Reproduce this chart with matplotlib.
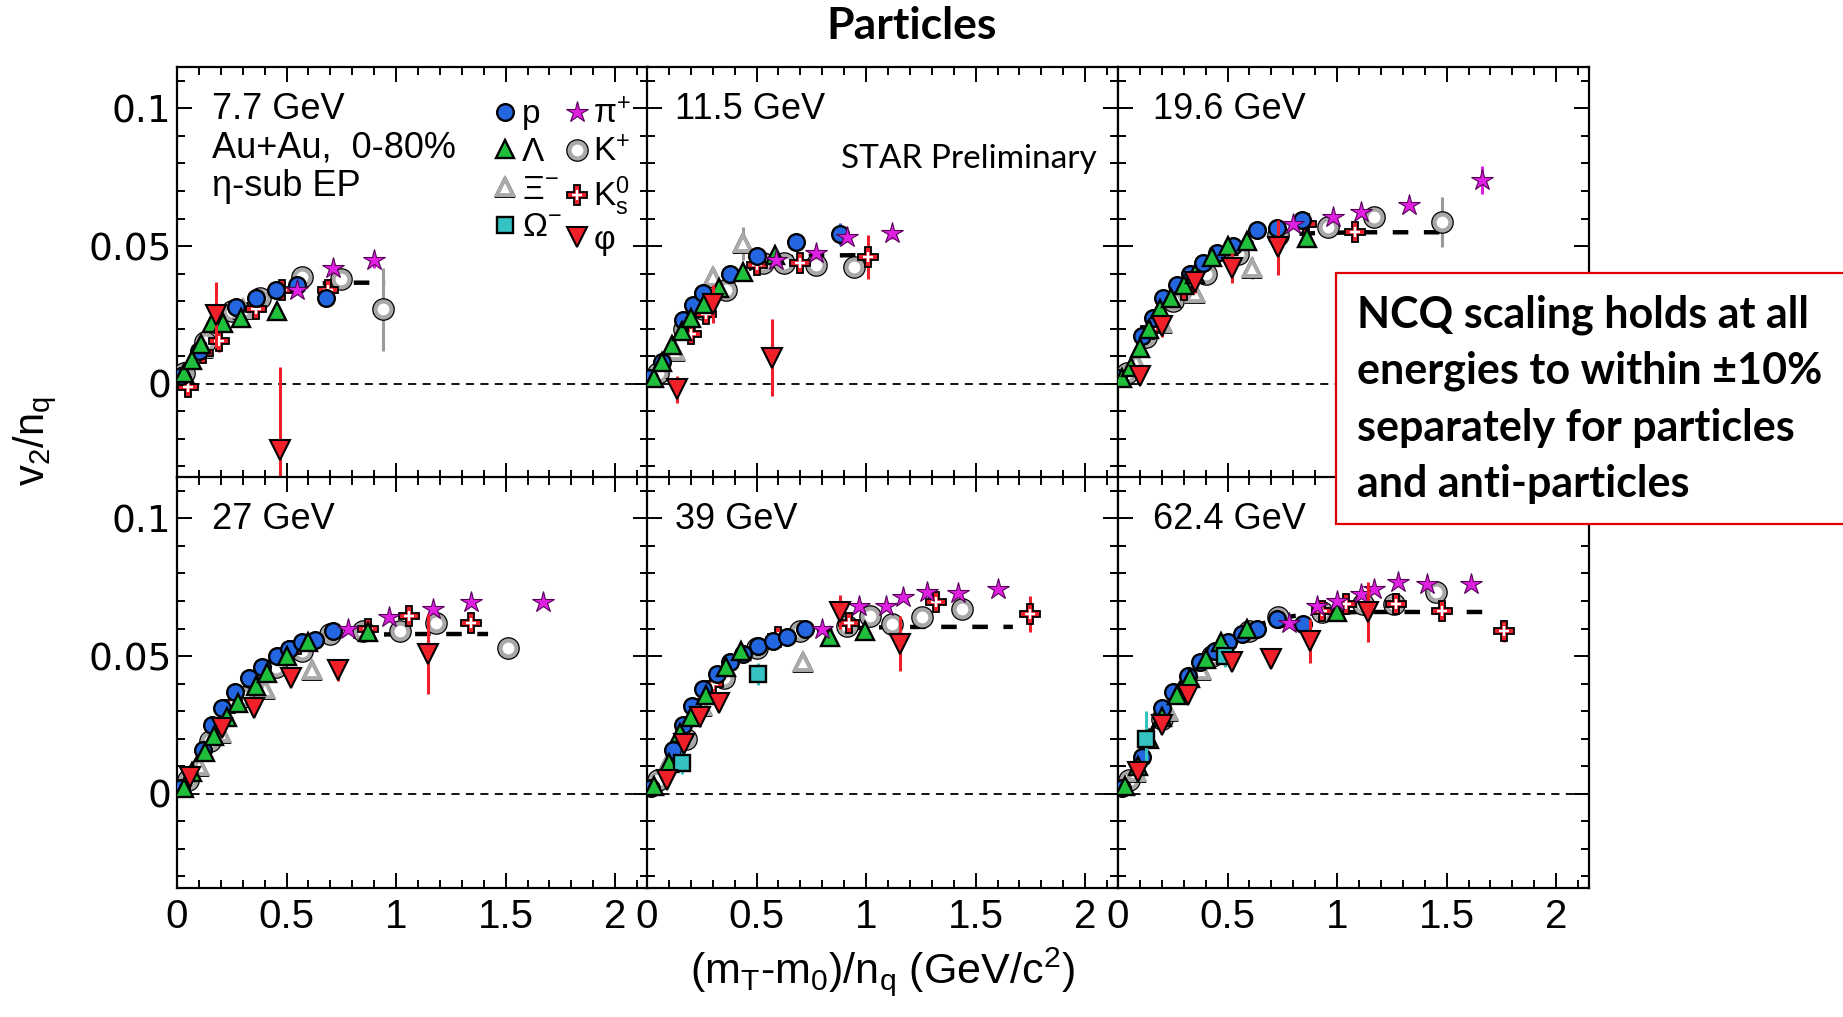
import matplotlib
matplotlib.use("Agg")
import matplotlib.pyplot as plt
from matplotlib.lines import Line2D
from matplotlib.patches import Rectangle
from matplotlib.ticker import MultipleLocator, FuncFormatter

plt.rcParams['mathtext.fontset'] = 'custom'
plt.rcParams['mathtext.rm'] = 'Liberation Sans'
plt.rcParams['mathtext.it'] = 'Liberation Sans:italic'
plt.rcParams['mathtext.default'] = 'regular'
plt.rcParams['font.family'] = ['Liberation Sans', 'DejaVu Sans']

# ---------------- data: (x, v2/nq, error) ----------------
ENERGIES = ["7.7 GeV", "11.5 GeV", "19.6 GeV", "27 GeV", "39 GeV", "62.4 GeV"]

P_7 = [(0.02,0.003,0),(0.10,0.012,0),(0.27,0.028,0),(0.36,0.031,0),(0.45,0.034,0),(0.55,0.036,0),(0.68,0.031,0)]
L_7 = [(0.03,0.004,0),(0.07,0.0085,0),(0.11,0.0146,0),(0.16,0.022,0),(0.21,0.022,0),(0.29,0.024,0),(0.455,0.0266,0)]
XI_7 = [(0.12,0.013,0),(0.30,0.027,0)]
OM_7 = []
PI_7 = [(0.55,0.034,0),(0.71,0.042,0.002),(0.90,0.045,0.003)]
K_7 = [(0.03,0.004,0),(0.13,0.015,0),(0.25,0.0266,0),(0.38,0.031,0),(0.57,0.0387,0),(0.75,0.038,0.002),(0.94,0.027,0.015)]
KS_7 = [(0.05,-0.001,0.003),(0.12,0.011,0.003),(0.19,0.0157,0.004),(0.36,0.027,0.003),(0.48,0.034,0.003),(0.69,0.034,0.004)]
PHI_7 = [(0.18,0.025,0.012),(0.47,-0.024,0.030)]
FITX_7 = [0,0.1,0.2,0.3,0.4,0.5,0.6,0.7,0.8,0.95]
FITY_7 = [0,0.012,0.022,0.028,0.032,0.035,0.0362,0.0366,0.0367,0.0367]

P_11 = [(0.01,0.002,0),(0.07,0.008,0),(0.165,0.023,0),(0.21,0.0285,0),(0.256,0.033,0),(0.38,0.040,0),(0.5,0.0465,0),(0.68,0.0515,0),(0.88,0.0545,0.004)]
L_11 = [(0.03,0.002,0),(0.07,0.008,0),(0.115,0.014,0),(0.16,0.019,0),(0.2,0.024,0),(0.26,0.029,0),(0.33,0.0347,0),(0.44,0.0405,0),(0.585,0.0467,0)]
XI_11 = [(0.13,0.012,0),(0.3,0.0387,0.003),(0.44,0.051,0.006)]
OM_11 = []
PI_11 = [(0.59,0.045,0),(0.77,0.0474,0),(0.915,0.0533,0.002),(1.12,0.0547,0.002)]
K_11 = [(0.05,0.004,0),(0.17,0.020,0),(0.255,0.027,0),(0.36,0.034,0),(0.53,0.044,0),(0.625,0.0438,0),(0.77,0.043,0),(0.945,0.0423,0.002)]
KS_11 = [(0.2,0.018,0),(0.27,0.0255,0),(0.5,0.043,0),(0.7,0.044,0.002),(1.01,0.046,0.008)]
PHI_11 = [(0.137,-0.002,0.005),(0.3,0.029,0.007),(0.57,0.0095,0.014)]
FITX_11 = [0,0.1,0.2,0.3,0.4,0.5,0.6,0.7,0.8,1.02]
FITY_11 = [0,0.012,0.024,0.033,0.039,0.043,0.0455,0.0463,0.0466,0.0467]

P_19 = [(0.0,0.002,0),(0.11,0.0175,0),(0.16,0.024,0),(0.205,0.031,0),(0.27,0.0357,0),(0.33,0.040,0),(0.39,0.044,0),(0.45,0.0474,0),(0.525,0.050,0),(0.635,0.0558,0),(0.726,0.0566,0),(0.84,0.0595,0)]
L_19 = [(0.02,0.002,0),(0.06,0.006,0),(0.1,0.013,0),(0.14,0.02,0),(0.19,0.027,0),(0.24,0.031,0),(0.3,0.036,0),(0.35,0.040,0),(0.43,0.046,0),(0.5,0.05,0),(0.59,0.052,0),(0.863,0.053,0.003)]
XI_19 = [(0.08,0.008,0),(0.2,0.022,0),(0.35,0.033,0),(0.61,0.042,0.004)]
OM_19 = []
PI_19 = [(0.8,0.058,0),(0.98,0.0605,0),(1.11,0.0624,0),(1.33,0.065,0),(1.66,0.074,0.005)]
K_19 = [(0.04,0.004,0),(0.13,0.017,0),(0.25,0.03,0),(0.4,0.04,0),(0.55,0.047,0),(0.73,0.054,0),(0.96,0.057,0),(1.17,0.0605,0),(1.48,0.0588,0.009)]
KS_19 = [(0.15,0.02,0),(0.3,0.034,0),(0.86,0.058,0.003),(1.08,0.055,0.002)]
PHI_19 = [(0.1,0.003,0.003),(0.2,0.021,0.004),(0.35,0.0368,0.004),(0.52,0.042,0.0055),(0.73,0.0496,0.01)]
FITX_19 = [0,0.1,0.2,0.3,0.4,0.5,0.6,0.7,0.8,0.9,1.1,1.5]
FITY_19 = [0,0.014,0.027,0.036,0.043,0.048,0.051,0.053,0.0543,0.0547,0.055,0.055]

P_27 = [(0.02,0.002,0),(0.12,0.016,0),(0.16,0.025,0),(0.205,0.031,0),(0.265,0.037,0),(0.33,0.042,0),(0.39,0.046,0),(0.455,0.050,0),(0.51,0.0525,0),(0.57,0.055,0),(0.63,0.056,0),(0.71,0.059,0)]
L_27 = [(0.03,0.002,0),(0.07,0.008,0),(0.13,0.015,0),(0.17,0.021,0),(0.23,0.028,0),(0.28,0.033,0),(0.36,0.039,0),(0.41,0.044,0),(0.5,0.05,0),(0.6,0.055,0),(0.87,0.0588,0)]
XI_27 = [(0.1,0.01,0),(0.2,0.022,0),(0.4,0.038,0),(0.617,0.045,0)]
OM_27 = []
PI_27 = [(0.78,0.06,0),(0.97,0.064,0),(1.17,0.067,0),(1.34,0.0697,0),(1.67,0.0697,0)]
K_27 = [(0.05,0.005,0),(0.15,0.019,0),(0.3,0.035,0),(0.45,0.046,0),(0.57,0.052,0),(0.7,0.058,0),(0.85,0.059,0),(1.02,0.059,0),(1.18,0.062,0.002),(1.51,0.053,0.004)]
KS_27 = [(0.25,0.033,0),(0.52,0.052,0),(0.87,0.060,0),(1.06,0.0646,0.002),(1.34,0.062,0.003)]
PHI_27 = [(0.06,0.006,0.003),(0.205,0.024,0.003),(0.35,0.031,0.003),(0.52,0.042,0.003),(0.735,0.045,0.004),(1.145,0.0507,0.0146)]
FITX_27 = [0,0.1,0.2,0.3,0.4,0.5,0.6,0.7,0.8,0.9,1.1,1.42]
FITY_27 = [0,0.014,0.028,0.038,0.045,0.050,0.054,0.056,0.057,0.0578,0.058,0.058]

P_39 = [(0.02,0.002,0),(0.12,0.016,0),(0.165,0.025,0),(0.205,0.032,0),(0.256,0.038,0),(0.32,0.0434,0),(0.38,0.048,0),(0.44,0.0507,0),(0.507,0.0537,0),(0.575,0.0555,0),(0.64,0.057,0),(0.72,0.06,0)]
L_39 = [(0.03,0.003,0),(0.1,0.011,0),(0.15,0.022,0),(0.2,0.028,0),(0.27,0.036,0),(0.36,0.046,0),(0.43,0.052,0),(0.835,0.057,0),(0.995,0.059,0)]
XI_39 = [(0.1,0.012,0),(0.25,0.032,0),(0.71,0.048,0)]
OM_39 = [(0.16,0.0113,0.004),(0.507,0.0434,0.004)]
PI_39 = [(0.8,0.06,0),(0.97,0.068,0),(1.09,0.068,0),(1.17,0.0715,0),(1.28,0.0733,0),(1.42,0.073,0),(1.6,0.0744,0)]
K_39 = [(0.05,0.005,0),(0.18,0.02,0),(0.35,0.042,0),(0.5,0.053,0),(0.7,0.059,0),(0.913,0.061,0),(1.02,0.0646,0),(1.12,0.0617,0),(1.255,0.064,0),(1.44,0.067,0)]
KS_39 = [(0.3,0.04,0),(0.6,0.057,0),(0.92,0.062,0),(1.32,0.0697,0),(1.75,0.0653,0.0065)]
PHI_39 = [(0.09,0.005,0.002),(0.17,0.018,0.003),(0.24,0.028,0.003),(0.33,0.033,0.003),(0.88,0.066,0.006),(1.155,0.0544,0.01)]
FITX_39 = [0,0.1,0.2,0.3,0.4,0.5,0.6,0.7,0.8,0.9,1.1,1.3,1.67]
FITY_39 = [0,0.014,0.03,0.041,0.048,0.053,0.056,0.058,0.0595,0.060,0.0605,0.0606,0.0606]

P_62 = [(0.02,0.002,0),(0.11,0.0135,0),(0.2,0.031,0),(0.25,0.037,0),(0.32,0.0427,0),(0.375,0.048,0),(0.443,0.052,0),(0.5,0.055,0),(0.566,0.058,0),(0.635,0.06,0),(0.726,0.0635,0),(0.845,0.0617,0)]
L_62 = [(0.03,0.003,0),(0.09,0.01,0),(0.14,0.02,0),(0.2,0.028,0),(0.27,0.036,0),(0.33,0.042,0),(0.4,0.049,0),(0.47,0.055,0),(0.59,0.06,0),(1.0,0.066,0)]
XI_62 = [(0.08,0.008,0),(0.23,0.03,0),(0.38,0.045,0)]
OM_62 = [(0.13,0.02,0.01),(0.49,0.05,0.004)]
PI_62 = [(0.78,0.062,0),(0.91,0.068,0),(1.0,0.07,0),(1.11,0.0725,0),(1.17,0.0744,0),(1.28,0.077,0),(1.41,0.076,0),(1.61,0.076,0)]
K_62 = [(0.05,0.005,0),(0.2,0.027,0),(0.43,0.05,0),(0.6,0.059,0),(0.73,0.064,0),(0.93,0.066,0),(1.12,0.069,0),(1.26,0.069,0),(1.45,0.0733,0)]
KS_62 = [(0.93,0.0665,0),(1.04,0.069,0),(1.27,0.069,0),(1.48,0.0665,0.002),(1.76,0.059,0.004)]
PHI_62 = [(0.09,0.008,0.003),(0.2,0.025,0.003),(0.32,0.036,0.003),(0.52,0.048,0.003),(0.7,0.0489,0.003),(0.877,0.0555,0.008),(1.14,0.066,0.011)]
FITX_62 = [0,0.1,0.2,0.3,0.4,0.5,0.6,0.7,0.8,0.9,1.1,1.3,1.67]
FITY_62 = [0,0.015,0.03,0.042,0.05,0.056,0.06,0.063,0.0645,0.0655,0.066,0.066,0.066]

PANELS = [
    dict(P=P_7, L=L_7, XI=XI_7, OM=OM_7, PI=PI_7, K=K_7, KS=KS_7, PHI=PHI_7, FX=FITX_7, FY=FITY_7),
    dict(P=P_11, L=L_11, XI=XI_11, OM=OM_11, PI=PI_11, K=K_11, KS=KS_11, PHI=PHI_11, FX=FITX_11, FY=FITY_11),
    dict(P=P_19, L=L_19, XI=XI_19, OM=OM_19, PI=PI_19, K=K_19, KS=KS_19, PHI=PHI_19, FX=FITX_19, FY=FITY_19),
    dict(P=P_27, L=L_27, XI=XI_27, OM=OM_27, PI=PI_27, K=K_27, KS=KS_27, PHI=PHI_27, FX=FITX_27, FY=FITY_27),
    dict(P=P_39, L=L_39, XI=XI_39, OM=OM_39, PI=PI_39, K=K_39, KS=KS_39, PHI=PHI_39, FX=FITX_39, FY=FITY_39),
    dict(P=P_62, L=L_62, XI=XI_62, OM=OM_62, PI=PI_62, K=K_62, KS=KS_62, PHI=PHI_62, FX=FITX_62, FY=FITY_62),
]

# ---------------- styles ----------------
BLUE = '#2466e0'
GREEN = '#1fbf3c'
GRAY = '#9a9a9a'
CYAN = '#35c2c2'
MAG = '#e020e0'
RED = '#f0202a'

W, H = 1843, 1017
fig = plt.figure(figsize=(W / 100, H / 100), dpi=100)

col_left = [177, 647, 1118]
col_w = 471
row_top = [67, 477]
row_h = 411

def fx(px):
    return px / W

def fy(py):
    return 1 - py / H

def unpack(data):
    xs = [d[0] for d in data]
    ys = [d[1] for d in data]
    es = [d[2] for d in data]
    return xs, ys, es

def draw_species(ax, data, ecolor, layers, z):
    if not data:
        return
    xs, ys, es = unpack(data)
    ax.errorbar(xs, ys, yerr=es, fmt='none', ecolor=ecolor, elinewidth=2.2,
                capsize=0, zorder=z)
    for k, st in enumerate(layers):
        ax.plot(xs, ys, linestyle='none', zorder=z + 0.1 * (k + 1), **st)

ST_P = [dict(marker='o', ms=12, mfc=BLUE, mec='black', mew=1.7)]
ST_L = [dict(marker='^', ms=13, mfc=GREEN, mec='black', mew=1.7)]
ST_XI = [dict(marker='^', ms=15, mfc='white', mec='black', mew=1.3),
         dict(marker='^', ms=11, mfc='none', mec='#aaaaaa', mew=2.8)]
ST_OM = [dict(marker='s', ms=11, mfc=CYAN, mec='black', mew=1.7)]
ST_PI = [dict(marker='*', ms=16, mfc=MAG, mec='#550055', mew=0.8)]
ST_K = [dict(marker='o', ms=15, mfc='white', mec='black', mew=1.3),
        dict(marker='o', ms=11.5, mfc='none', mec='#a8a8a8', mew=3.0)]
ST_KS = [dict(marker='P', ms=15, mfc=RED, mec='black', mew=1.3),
         dict(marker='+', ms=7.5, mfc='none', mec='white', mew=1.7)]
ST_PHI = [dict(marker='v', ms=14, mfc=RED, mec='black', mew=1.5)]

axes = []
for i in range(6):
    r, c = divmod(i, 3)
    ax = fig.add_axes([fx(col_left[c]), fy(row_top[r] + row_h), fx(col_w), row_h / H])
    axes.append(ax)
    ax.set_xlim(0, 2.15)
    ax.set_ylim(-0.0342, 0.115)
    ax.axhline(0, color='black', lw=1.3, ls=(0, (4.5, 3.5)), zorder=1)
    pnl = PANELS[i]
    ax.plot(pnl['FX'], pnl['FY'], color='black', lw=3.2, ls=(0, (3.5, 3.5)), zorder=2)
    draw_species(ax, pnl['K'], GRAY, ST_K, 3)
    draw_species(ax, pnl['XI'], GRAY, ST_XI, 4)
    draw_species(ax, pnl['KS'], RED, ST_KS, 5)
    draw_species(ax, pnl['P'], BLUE, ST_P, 6)
    draw_species(ax, pnl['L'], GREEN, ST_L, 7)
    draw_species(ax, pnl['OM'], CYAN, ST_OM, 8)
    draw_species(ax, pnl['PI'], MAG, ST_PI, 9)
    draw_species(ax, pnl['PHI'], RED, ST_PHI, 10)

    ax.xaxis.set_major_locator(MultipleLocator(0.5))
    ax.xaxis.set_minor_locator(MultipleLocator(0.1))
    ax.yaxis.set_major_locator(MultipleLocator(0.05))
    ax.yaxis.set_minor_locator(MultipleLocator(0.01))
    ax.tick_params(which='both', direction='in', top=True, right=True, width=1.4)
    ax.tick_params(which='major', length=11)
    ax.tick_params(which='minor', length=5.5)
    for s in ax.spines.values():
        s.set_linewidth(1.6)
    ax.xaxis.set_major_formatter(FuncFormatter(lambda v, p: '%g' % round(v, 3)))
    ax.yaxis.set_major_formatter(FuncFormatter(lambda v, p: '%g' % round(v, 3)))
    if c == 0:
        for t in ax.get_yticklabels():
            t.set_family(['DejaVu Sans'])
        ax.tick_params(axis='y', labelsize=27, pad=4)
    else:
        ax.tick_params(axis='y', labelleft=False)
    if r == 1:
        ax.tick_params(axis='x', labelsize=29, pad=7)
    else:
        ax.tick_params(axis='x', labelbottom=False)

LABEL_X = [0.074, 0.06, 0.074, 0.074, 0.06, 0.074]
for i, ax in enumerate(axes):
    ax.text(LABEL_X[i], 0.897, ENERGIES[i], transform=ax.transAxes, fontsize=26,
            ha='left', va='center', zorder=20)

axes[0].text(0.074, 0.802, 'Au+Au,  0-80%', transform=axes[0].transAxes, fontsize=26,
             ha='left', va='center')
axes[0].text(0.074, 0.71, 'η-sub EP', transform=axes[0].transAxes, fontsize=26,
             ha='left', va='center')

# legend
LEG_NAMES = ['p', 'Λ', 'Ξ$^{-}$', 'Ω$^{-}$', 'π$^{+}$', 'K$^{+}$', 'K$^{0}_{s}$', 'φ']
LEG_STYLES = [ST_P, ST_L, ST_XI, ST_OM, ST_PI, ST_K, ST_KS, ST_PHI]
handles = []
for st in LEG_STYLES:
    hs = tuple(Line2D([], [], linestyle='none', **s) for s in st)
    handles.append(hs if len(hs) > 1 else hs[0])
axes[0].legend(handles, LEG_NAMES, ncol=2, loc='upper left',
               bbox_to_anchor=(0.672, 0.922), frameon=False, fontsize=24,
               handlelength=0.7, handletextpad=0.15, columnspacing=0.1,
               labelspacing=0.2, borderpad=0, borderaxespad=0)

axes[1].text(0.955, 0.775, 'STAR Preliminary', transform=axes[1].transAxes,
             fontsize=24, family=['Lato', 'DejaVu Sans'], ha='right', va='center')

fig.text(fx(912), fy(26), 'Particles', fontsize=32, fontweight='bold',
         family=['Lato', 'DejaVu Sans'], ha='center', va='center')
fig.text(fx(35), fy(441), 'v$_{2}$/n$_{q}$', fontsize=30, rotation=90,
         ha='center', va='center')
fig.text(fx(882), fy(972), '(m$_{T}$-m$_{0}$)/n$_{q}$ (GeV/c$^{2}$)', fontsize=31,
         ha='center', va='center')

# annotation box
box = Rectangle((fx(1336), fy(524)), 0.4, fy(273) - fy(524), transform=fig.transFigure,
                facecolor='white', edgecolor='#e00000', lw=1.6, zorder=30, clip_on=False)
fig.add_artist(box)
BOX_LINES = ['NCQ scaling holds at all', 'energies to within ±10%',
             'separately for particles', 'and anti-particles']
BOX_Y = [315, 371, 428, 484]
for txt, yy in zip(BOX_LINES, BOX_Y):
    fig.text(fx(1357), fy(yy), txt, fontsize=31, fontweight='bold',
             family=['Lato', 'DejaVu Sans'], ha='left', va='center', zorder=31)

fig.savefig('out.png', dpi=100)
